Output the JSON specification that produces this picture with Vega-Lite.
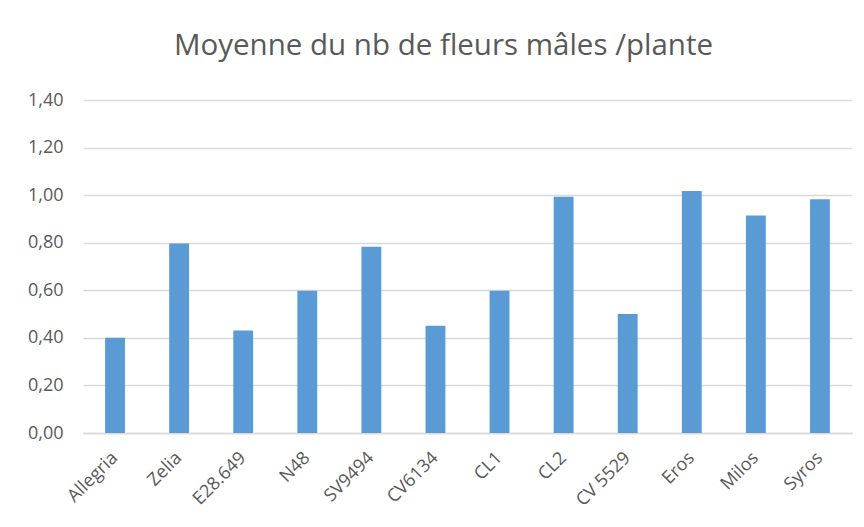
{
  "$schema": "https://vega.github.io/schema/vega-lite/v6.json",
  "autosize": "none",
  "width": 769,
  "height": 333,
  "padding": {"left": 83, "top": 100, "right": 12, "bottom": 94},
  "background": "white",
  "config": {"view": {"stroke": null}, "font": "Open Sans"},
  "title": {
    "text": "Moyenne du nb de fleurs mâles /plante",
    "fontSize": 29.5,
    "fontWeight": "normal",
    "color": "#595959",
    "font": "Open Sans",
    "anchor": "middle",
    "dx": -24,
    "offset": 7,
    "baseline": "alphabetic"
  },
  "data": {
    "values": [
      {"variete": "Allegria", "moyenne": 0.40},
      {"variete": "Zelia", "moyenne": 0.797},
      {"variete": "E28.649", "moyenne": 0.431},
      {"variete": "N48", "moyenne": 0.598},
      {"variete": "SV9494", "moyenne": 0.783},
      {"variete": "CV6134", "moyenne": 0.451},
      {"variete": "CL1", "moyenne": 0.598},
      {"variete": "CL2", "moyenne": 0.993},
      {"variete": "CV 5529", "moyenne": 0.50},
      {"variete": "Eros", "moyenne": 1.017},
      {"variete": "Milos", "moyenne": 0.914},
      {"variete": "Syros", "moyenne": 0.983}
    ]
  },
  "mark": {"type": "bar", "color": "#5B9BD5"},
  "encoding": {
    "x": {
      "field": "variete",
      "type": "nominal",
      "sort": null,
      "scale": {"paddingInner": 0.69, "paddingOuter": 0.345},
      "axis": {
        "title": null,
        "labelAngle": -45,
        "labelAlign": "right",
        "labelBaseline": "middle",
        "labelFontSize": 18,
        "labelColor": "#595959",
        "labelFont": "Open Sans",
        "labelPadding": 22,
        "ticks": false,
        "domainColor": "#D9D9D9",
        "domainWidth": 1.5
      }
    },
    "y": {
      "field": "moyenne",
      "type": "quantitative",
      "scale": {"domain": [0, 1.4]},
      "axis": {
        "title": null,
        "values": [0, 0.2, 0.4, 0.6, 0.8, 1.0, 1.2, 1.4],
        "labelExpr": "replace(format(datum.value, '.2f'), '.', ',')",
        "labelFontSize": 18,
        "labelColor": "#595959",
        "labelFont": "Open Sans",
        "labelPadding": 20,
        "ticks": false,
        "domain": false,
        "gridColor": "#D9D9D9",
        "gridWidth": 1.5
      }
    }
  }
}
